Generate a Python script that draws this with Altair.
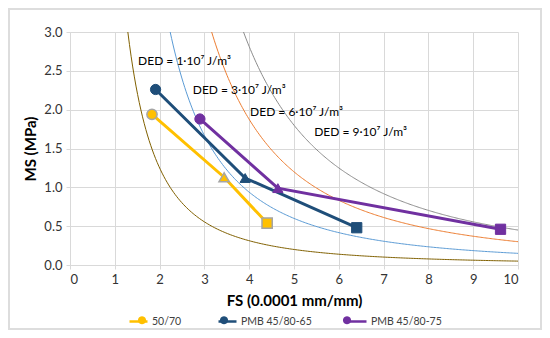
import altair as alt
import numpy as np
import pandas as pd

# ---- data ----
series_names = ["50/70", "PMB 45/80-65", "PMB 45/80-75"]
series_colors = ["#FFC000", "#1F4E79", "#7030A0"]
stage = ["c", "t", "s"]
fs_5070 = [1.83, 3.44, 4.40]
ms_5070 = [1.94, 1.13, 0.54]
fs_65 = [1.91, 3.91, 6.40]
ms_65 = [2.26, 1.12, 0.48]
fs_75 = [2.90, 4.64, 9.61]
ms_75 = [1.88, 0.99, 0.46]

ded_levels = [1, 3, 6, 9]  # x10^7 J/m^3
ded_colors = ["#806000", "#5B9BD5", "#ED7D31", "#8C8C8C"]
ded_labels = ["DED = 1·10⁷ J/m³", "DED = 3·10⁷ J/m³", "DED = 6·10⁷ J/m³", "DED = 9·10⁷ J/m³"]
label_x = [1.52, 2.74, 4.02, 5.45]
label_y = [2.63, 2.25, 1.97, 1.71]

x_ticks = list(range(0, 11))
y_ticks = [0, 0.5, 1.0, 1.5, 2.0, 2.5, 3.0]

rows = []
for name, xs, ys in [(series_names[0], fs_5070, ms_5070),
                     (series_names[1], fs_65, ms_65),
                     (series_names[2], fs_75, ms_75)]:
    for i, (x, y) in enumerate(zip(xs, ys)):
        rows.append({"series": name, "fs": x, "ms": y, "stage": stage[i], "order": i})
pts = pd.DataFrame(rows)

# iso-DED curves: MS = 5*k / FS^2 (k in 1e7 J/m^3)
curve_rows = []
for k in ded_levels:
    x0 = np.sqrt(5 * k / 3.0)
    for x in np.linspace(x0, 10, 240):
        curve_rows.append({"ded": k, "fs": float(x), "ms": float(5 * k / x ** 2)})
curves = pd.DataFrame(curve_rows)

labels = pd.DataFrame({"fs": label_x, "ms": label_y, "text": ded_labels})

FONT = "Lato"
xscale = alt.Scale(domain=[0, 10], nice=False)
yscale = alt.Scale(domain=[0, 3], nice=False)

xenc = alt.X("fs:Q", scale=xscale,
             axis=alt.Axis(title="FS (0.0001 mm/mm)", values=x_ticks, format="d",
                           titleFontSize=15, titleFontWeight="bold", titleColor="#000000",
                           titlePadding=7, labelFontSize=13, labelColor="#333333",
                           labelPadding=4, tickSize=4, tickColor="#D9D9D9",
                           domainColor="#D9D9D9", gridColor="#D9D9D9"))
yenc = alt.Y("ms:Q", scale=yscale,
             axis=alt.Axis(title="MS (MPa)", values=y_ticks, format=".1f",
                           titleFontSize=15, titleFontWeight="bold", titleColor="#000000",
                           titlePadding=5, labelFontSize=13, labelColor="#333333",
                           labelPadding=4, tickSize=4, tickColor="#D9D9D9",
                           domainColor="#D9D9D9", gridColor="#D9D9D9"))

layers = []
base_c = alt.Chart(curves)
for k, c in zip(ded_levels, ded_colors):
    layers.append(base_c.transform_filter(alt.datum.ded == k)
                  .mark_line(color=c, strokeWidth=1, clip=True)
                  .encode(x=xenc, y=yenc, order="fs:Q"))

color_scale = alt.Scale(domain=series_names, range=series_colors)
# same mapping, listed in reverse so the two legends are not merged
fill_scale = alt.Scale(domain=series_names[::-1], range=series_colors[::-1])
shape_scale = alt.Scale(domain=stage, range=["circle", "triangle-up", "square"])

common_legend = dict(title=None, orient="none", direction="horizontal",
                     legendY=279, symbolSize=324, values=series_names,
                     labelFontSize=10.5, labelFont=FONT, labelColor="#404040",
                     labelOffset=3, columnPadding=31)

line_path = "M-1,0L1,0"
# small polygonal dot (legend glyph), same extent as the line glyph
_ang = np.linspace(0, 2 * np.pi, 20, endpoint=False)
dot_path = "M-1,0L1,0M" + "L".join(f"{0.45 * np.cos(a):.3f},{0.45 * np.sin(a):.3f}" for a in _ang) + "Z"

lines = alt.Chart(pts).mark_line(strokeWidth=3).encode(
    x=xenc, y=yenc, order="order:O",
    color=alt.Color("series:N", scale=color_scale,
                    legend=alt.Legend(symbolType=line_path, symbolStrokeWidth=2.5,
                                      legendX=58, **common_legend)),
)

pts_other = alt.Chart(pts).transform_filter(alt.datum.series != "50/70").mark_point(
    filled=True, opacity=1, size=105, strokeWidth=1).encode(
    x=xenc, y=yenc,
    fill=alt.Fill("series:N", scale=fill_scale,
                  legend=alt.Legend(symbolType=dot_path, symbolStrokeWidth=0,
                                    labelOpacity=0, legendX=63, **common_legend)),
    stroke=alt.Stroke("series:N", scale=color_scale, legend=None),
    shape=alt.Shape("stage:N", scale=shape_scale, legend=None),
)
pts_yellow = alt.Chart(pts).transform_filter(alt.datum.series == "50/70").mark_point(
    filled=True, opacity=1, size=105, strokeWidth=1.5, stroke="#A5A5A5", fill="#FFC000").encode(
    x=xenc, y=yenc,
    shape=alt.Shape("stage:N", scale=shape_scale, legend=None),
)

text = alt.Chart(labels).mark_text(align="left", baseline="middle", fontSize=12,
                                   font=FONT, color="#000000").encode(
    x=xenc, y=yenc, text="text:N")

border = alt.Chart(labels).mark_rect(fill=None, stroke="#DDDDDD", strokeWidth=2).encode(
    x=alt.value(-61), x2=alt.value(471), y=alt.value(-23), y2=alt.value(297))

chart = alt.layer(*layers, lines, pts_other, pts_yellow, text, border).properties(
    width=448, height=233,
    autosize=alt.AutoSizeParams(type="none"),
    padding={"left": 62, "top": 24, "right": 24, "bottom": 65},
    background="#FFFFFF",
).configure_axis(labelFont=FONT, titleFont=FONT).configure_view(stroke=None)

chart.save("out.html", embed_options={"renderer": "svg", "actions": False})
